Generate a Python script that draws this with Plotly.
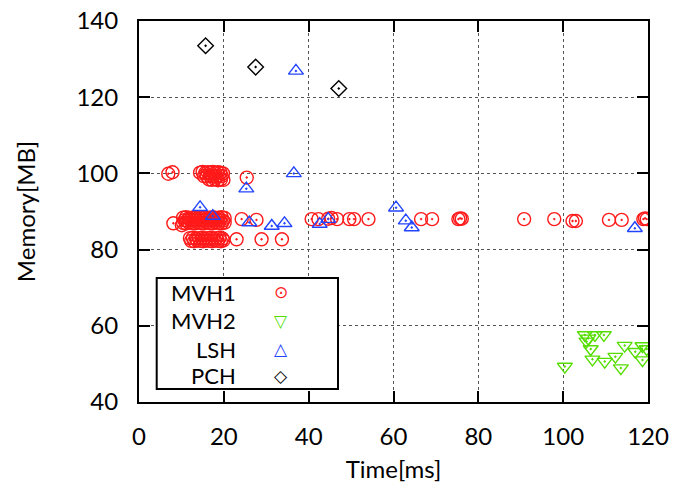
import plotly.graph_objects as go

# ---------------- data ----------------
mvh1_x = ([6.9, 7.9, 25.4]
          + [14.4, 15.0, 15.6, 16.2, 16.8, 17.4, 18.0, 18.6, 19.2, 19.8]
          + [15.3, 16.0, 16.7, 17.4, 18.1, 18.8, 19.5]
          + [16.5, 17.2, 17.9, 18.6, 19.3, 19.9]
          + [8.1, 10.1]
          + [10.4, 11.1, 11.8, 12.5, 13.2, 13.9, 14.6, 15.3, 16.0, 16.7, 17.4, 18.1, 18.8, 19.5, 20.2]
          + [10.7, 11.4, 12.1, 12.8, 13.5, 14.2, 14.9, 15.6, 16.3, 17.0, 17.7, 18.4, 19.1, 19.8]
          + [10.4, 11.1, 11.8, 12.5, 13.2, 13.9, 14.6, 15.3, 16.0, 16.7, 17.4, 18.1, 18.8, 19.5, 20.2]
          + [24.2, 27.7, 40.7, 42.3, 44.6, 45.4, 46.7, 49.6, 50.7, 54.1, 66.5, 69.1, 75.3, 75.7, 76.1,
             90.8, 97.9, 102.2, 103.0, 110.8, 113.8, 118.9, 119.3, 119.7]
          + [12.0, 12.7, 13.4, 14.1, 14.8, 15.5, 16.2, 16.9, 17.6, 18.3, 19.0, 19.7]
          + [12.3, 13.0, 13.7, 14.4, 15.1, 15.8, 16.5, 17.2, 17.9, 18.6, 19.3, 19.9]
          + [23.0, 28.9, 33.7])
mvh1_y = ([99.9, 100.3, 98.9]
          + [100.2, 100.4, 100.1, 100.3, 100.2, 100.4, 100.1, 100.3, 100.2, 100.0]
          + [99.3, 99.2, 99.4, 99.3, 99.2, 99.4, 99.3]
          + [98.4, 98.3, 98.5, 98.2, 98.4, 98.3]
          + [86.9, 86.4]
          + [88.4, 88.5, 88.3, 88.4, 88.5, 88.3, 88.4, 88.5, 88.3, 88.4, 88.5, 88.3, 88.4, 88.5, 88.3]
          + [87.7, 87.6, 87.8, 87.7, 87.6, 87.8, 87.7, 87.6, 87.8, 87.7, 87.6, 87.8, 87.7, 87.6]
          + [87.0, 86.9, 87.1, 87.0, 86.9, 87.1, 87.0, 86.9, 87.1, 87.0, 86.9, 87.1, 87.0, 86.9, 87.1]
          + [88.0, 87.8, 88.0, 88.0, 88.1, 88.3, 88.0, 88.0, 88.0, 88.0, 88.0, 88.0, 88.0, 88.2, 88.1,
             88.0, 88.0, 87.5, 87.5, 87.8, 87.8, 88.0, 88.2, 88.0]
          + [83.0, 83.1, 82.9, 83.0, 83.1, 82.9, 83.0, 83.1, 82.9, 83.0, 83.1, 82.9]
          + [82.3, 82.2, 82.4, 82.3, 82.2, 82.4, 82.3, 82.2, 82.4, 82.3, 82.2, 82.4]
          + [82.7, 82.7, 82.7])

mvh2_x = [100.4, 105.1, 105.9, 105.5, 107.5, 109.6, 106.5, 106.9, 109.8, 112.3, 113.6, 114.5, 117.0, 118.7, 118.7, 119.7]
mvh2_y = [49.3, 57.6, 56.7, 55.9, 57.6, 57.6, 53.9, 51.2, 50.6, 51.9, 48.9, 54.8, 53.2, 54.7, 51.0, 53.9]

lsh_x = [14.4, 17.4, 25.3, 26.0, 31.3, 34.3, 36.5, 37.0, 42.6, 44.6, 60.6, 62.9, 64.3, 116.9]
lsh_y = [91.1, 88.8, 96.0, 87.1, 86.2, 86.9, 100.0, 126.9, 86.7, 88.0, 91.0, 87.6, 85.8, 85.6]

pch_x = [15.7, 27.5, 47.1]
pch_y = [133.5, 127.9, 122.3]

series_names = ["MVH1", "MVH2", "LSH", "PCH"]
legend_glyphs = ["⊙", "▽", "△", "◇"]
x_ticks = [0, 20, 40, 60, 80, 100, 120]
y_ticks = [40, 60, 80, 100, 120, 140]

FONT = "Lato"
colors = ["#ff1a1a", "#55dd00", "#2244ff", "#000000"]
symbols = ["circle-open-dot", "triangle-down-open-dot", "triangle-up-open-dot", "diamond-open-dot"]
sizes = [13, 13, 13, 12]

fig = go.Figure()
for name, xs, ys, sym, col, sz in zip(series_names, [mvh1_x, mvh2_x, lsh_x, pch_x],
                                       [mvh1_y, mvh2_y, lsh_y, pch_y], symbols, colors, sizes):
    fig.add_trace(go.Scatter(
        x=xs, y=ys, mode="markers", name=name, showlegend=False,
        marker=dict(symbol=sym, size=sz, color=col, line=dict(width=1.4, color=col)),
    ))

axis_common = dict(
    showline=True, linecolor="black", linewidth=2, mirror="ticks",
    ticks="inside", ticklen=11, tickwidth=2, tickcolor="black",
    showgrid=True, gridcolor="#555555", gridwidth=1, griddash="dot",
    zeroline=False, automargin=False, ticklabeloverflow="allow",
    tickfont=dict(family=FONT, size=24, color="black"),
)
fig.update_xaxes(range=[0, 120], tickvals=x_ticks, ticklabelstandoff=12,
                 title=dict(text="Time[ms]", font=dict(family=FONT, size=24, color="black"), standoff=12),
                 **axis_common)
fig.update_yaxes(range=[40, 140], tickvals=y_ticks, ticklabelstandoff=14,
                 title=dict(text="Memory[MB]", font=dict(family=FONT, size=24, color="black"), standoff=34),
                 **axis_common)

W, H = 689, 489
# plot-area edges in page pixels
L, R, T, B = 139, 648, 21, 402


def px(x):
    return (x - L) / (R - L)


def py(y):
    return (B - y) / (B - T)


# gnuplot-style key: box, right-aligned names, sample symbols on the right
shapes = [dict(type="rect", xref="paper", yref="paper",
               x0=px(156.7), x1=px(338), y0=py(389), y1=py(278),
               line=dict(color="black", width=2), fillcolor="white", layer="above")]
row_y = [292.4, 320.8, 349.0, 375.7]
annotations = []
for name, glyph, col, ry in zip(series_names, legend_glyphs, colors, row_y):
    annotations.append(dict(text=name, xref="paper", yref="paper", x=px(238), y=py(ry),
                            xanchor="right", yanchor="middle", showarrow=False,
                            font=dict(family=FONT, size=22, color="black")))
    annotations.append(dict(text=glyph, xref="paper", yref="paper", x=px(281), y=py(ry),
                            xanchor="center", yanchor="middle", showarrow=False,
                            font=dict(family="DejaVu Sans", size=17, color=col)))

fig.update_layout(
    width=W, height=H,
    margin=dict(l=L, r=W - R, t=T, b=H - B),
    plot_bgcolor="white", paper_bgcolor="white",
    font=dict(family=FONT, size=24, color="black"),
    showlegend=False,
    shapes=shapes, annotations=annotations,
)

fig.write_html("out.html", config={"displayModeBar": False},
               post_script="document.body.style.margin='0';document.body.style.overflow='hidden';")
